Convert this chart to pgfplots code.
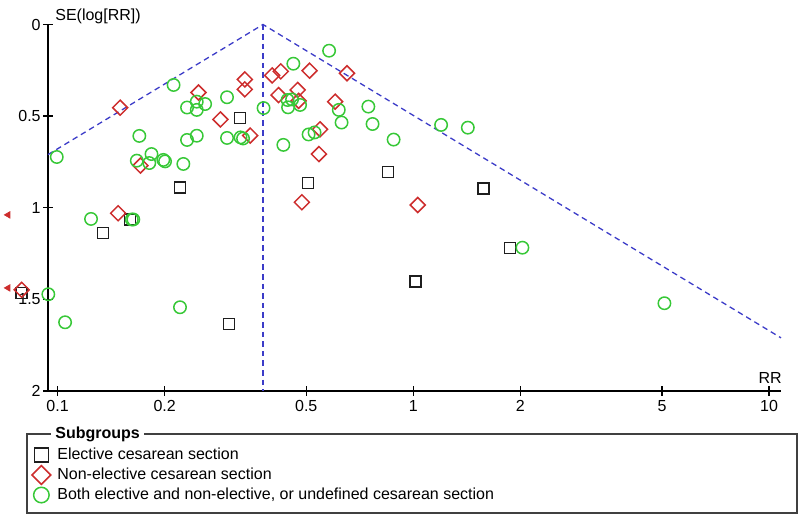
\documentclass[border=0pt]{standalone}
\usepackage{fontspec}
\setmainfont{Liberation Sans}
\usepackage{pgfplots}
\pgfplotsset{compat=1.18}
\definecolor{sqc}{RGB}{30,30,30}
\definecolor{dmc}{RGB}{205,45,45}
\definecolor{ccc}{RGB}{55,200,55}
\definecolor{fun}{RGB}{60,60,200}
\pgfplotsset{
  myonlymarks/.style={only marks, legend image code/.code={\draw[##1, /tikz/every mark/.append style={scale=1.25}] plot coordinates {(0pt,0pt)}; \path[draw=none, fill=none] (-4pt,0pt) -- (7pt,0pt);}},
}
\begin{document}
\begin{tikzpicture}[font=\fontsize{8pt}{9.6pt}\selectfont]
\useasboundingbox (-24pt,-66pt) rectangle (376pt,195.5pt);
\begin{axis}[
  at={(0pt,0pt)}, anchor=south west,
  width=366.5pt, height=183.25pt, scale only axis,
  xmode=log, xmin=0.094, xmax=10.8,
  ymin=0, ymax=2, y dir=reverse,
  axis x line*=bottom, axis y line*=left,
  axis line style={black, line width=0.9pt, -},
  xtick={0.1,0.2,0.5,1,2,5,10}, xticklabels={0.1,0.2,0.5,1,2,5,10},
  ytick={0,0.5,1,1.5,2}, yticklabels={0,0.5,1,1.5,2},
  xminorticks=false, yminorticks=false,
  tick align=center, major tick length=5pt,
  tick style={black, line width=0.7pt},
  xticklabel style={inner sep=1pt, yshift=-1pt},
  yticklabel style={inner sep=1pt},
  clip=false,
  legend cell align=left,
  legend style={at={(axis description cs:-0.0218,-0.1474)}, anchor=north west,
    draw=none, fill=none, inner sep=0pt, outer sep=0pt, row sep=0pt,
    nodes={inner sep=1pt, text height=6pt, text depth=2pt, anchor=west},
    font=\fontsize{8pt}{9.6pt}\selectfont},
]
% funnel
\addplot[fun, line width=0.65pt, dash pattern=on 2.8pt off 2pt, forget plot] coordinates {(0.094,0.71) (0.378,0) (10.8,1.71)};
\addplot[fun, line width=0.65pt, dash pattern=on 2.8pt off 2pt, forget plot] coordinates {(0.378,0) (0.378,2)};

\addplot[myonlymarks, mark=square, mark size=2.75pt, mark options={draw=sqc, line width=0.75pt, fill=none}] coordinates {
(0.326,0.509) (0.221,0.890) (0.134,1.139) (0.160,1.063) (0.0793,1.465) (0.303,1.634)
(0.505,0.865) (0.848,0.806) (1.573,0.894) (1.013,1.403) (1.871,1.221)};
\addlegendentry{Elective cesarean section}

\addplot[myonlymarks, mark=square, mark size=2.65pt, mark options={rotate=45, draw=dmc, line width=0.75pt, fill=none}] coordinates {
(0.150,0.454) (0.249,0.371) (0.287,0.518) (0.171,0.770) (0.148,1.030) (0.336,0.300)
(0.336,0.354) (0.348,0.606) (0.401,0.278) (0.424,0.256) (0.511,0.252) (0.651,0.266)
(0.418,0.385) (0.473,0.357) (0.476,0.417) (0.603,0.421) (0.547,0.572) (0.543,0.707)
(0.486,0.970) (1.029,0.985) (0.0793,1.448)};
\addlegendentry{Non-elective cesarean section}

\addplot[myonlymarks, mark=o, mark size=3.1pt, mark options={draw=ccc, line width=0.75pt}] coordinates {
(0.0995,0.723) (0.2119,0.330) (0.2995,0.397) (0.2312,0.453) (0.2462,0.421) (0.2462,0.466)
(0.2599,0.434) (0.1698,0.608) (0.2312,0.630) (0.2462,0.607) (0.2995,0.619) (0.3269,0.616)
(0.3322,0.622) (0.1670,0.743) (0.1837,0.707) (0.1811,0.756) (0.1983,0.739) (0.2005,0.747)
(0.2257,0.761) (0.3794,0.456) (0.4600,0.214) (0.5798,0.143) (0.4431,0.412) (0.4445,0.452)
(0.4805,0.439) (0.4562,0.409) (0.6174,0.466) (0.6285,0.535) (0.7476,0.448) (0.7682,0.543)
(0.5077,0.600) (0.5277,0.589) (0.4312,0.657) (0.8802,0.628) (1.197,0.548) (1.423,0.563)
(0.1242,1.061) (0.1617,1.064) (0.1633,1.064) (0.0942,1.472) (0.1050,1.625) (0.2209,1.543)
(2.026,1.218) (5.079,1.521)};
\addlegendentry{Both elective and non-elective, or undefined cesarean section}

% off-scale indicators
\addplot[only marks, forget plot, mark=triangle*, mark size=1.8pt, mark options={rotate=90, draw=dmc, fill=dmc}] coordinates {(0.0726,1.039) (0.0726,1.4376)};

\node[anchor=west, inner sep=0pt] at (axis description cs:0.0095,1.021) {SE(log[RR])};
\node[anchor=east, inner sep=0pt] at (axis description cs:1.0014,0.0355) {RR};
\draw[black!75, line width=0.8pt] (axis description cs:-0.02865,-0.11733) rectangle (axis description cs:1.02183,-0.33288);
\node[anchor=west, fill=white, inner sep=2pt, font=\fontsize{8pt}{9.6pt}\selectfont\bfseries] at (axis description cs:0.0041,-0.1173) {Subgroups};
\end{axis}
\end{tikzpicture}
\end{document}
